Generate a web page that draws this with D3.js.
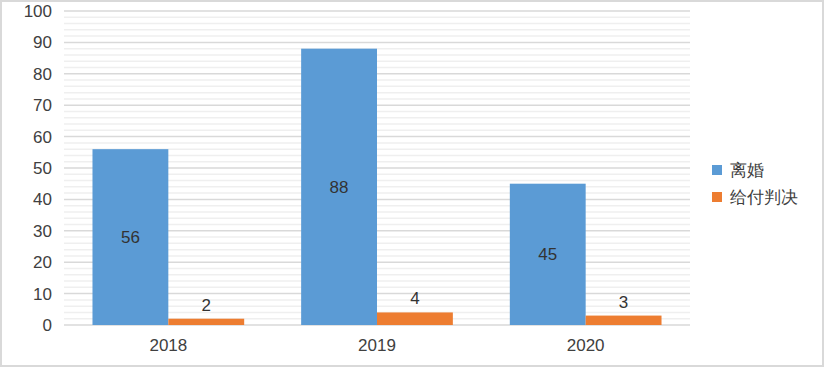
<!DOCTYPE html>
<html><head><meta charset="utf-8">
<script src="https://cdn.jsdelivr.net/npm/d3@7"></script>
<style>body{margin:0;background:#fff}svg{display:block}text{font-family:"Liberation Sans",Arial,sans-serif}</style>
</head><body>
<script>
const categories = ["2018", "2019", "2020"];
const seriesNames = ["离婚", "给付判决"];
const divorce = [56, 88, 45];
const payment = [2, 4, 3];
const yTicks = [0, 10, 20, 30, 40, 50, 60, 70, 80, 90, 100];
const colors = ["#5B9BD5", "#ED7D31"];

(function () {
const W = 824, H = 368;
const svg = d3.select("body").append("svg").attr("width", W).attr("height", H);
svg.append("rect").attr("x", 1).attr("y", 1).attr("width", W - 2).attr("height", H - 3)
  .attr("fill", "#fff").attr("stroke", "#d9d9d9").attr("stroke-width", 2);

const mLeft = 64, mRight = 690, mTop = 11, mBottom = 325;
const x = d3.scaleBand().domain(categories).range([mLeft, mRight]).paddingInner(0.273).paddingOuter(0.1365);
const y = d3.scaleLinear().domain([0, 100]).range([mBottom, mTop]);

const minor = d3.range(0, 101, 2).filter(v => v % 10 !== 0);
svg.append("g").selectAll("line").data(minor).join("line")
  .attr("x1", mLeft).attr("x2", mRight).attr("y1", d => y(d)).attr("y2", d => y(d))
  .attr("stroke", "#efefef").attr("stroke-width", 1.5);
svg.append("g").selectAll("line").data(yTicks).join("line")
  .attr("x1", mLeft).attr("x2", mRight).attr("y1", d => y(d)).attr("y2", d => y(d))
  .attr("stroke", "#d9d9d9").attr("stroke-width", 1.5);

const ya = svg.append("g").attr("transform", `translate(${mLeft - 12},0)`)
  .call(d3.axisLeft(y).tickValues(yTicks).tickSize(0).tickPadding(0));
ya.select(".domain").remove();
ya.selectAll("text").attr("font-size", 17).attr("fill", "#404040").attr("font-family", "Liberation Sans, Arial, sans-serif");

const xa = svg.append("g").attr("transform", `translate(0,${mBottom + 14})`)
  .call(d3.axisBottom(x).tickSize(0).tickPadding(0));
xa.select(".domain").remove();
xa.selectAll("text").attr("font-size", 17).attr("fill", "#404040").attr("dy", "0.71em").attr("font-family", "Liberation Sans, Arial, sans-serif");

const bw = x.bandwidth() / 2;
const g = svg.append("g");
categories.forEach((c, i) => {
  g.append("rect").attr("x", x(c)).attr("y", y(divorce[i])).attr("width", bw)
    .attr("height", y(0) - y(divorce[i])).attr("fill", colors[0]);
  g.append("rect").attr("x", x(c) + bw).attr("y", y(payment[i])).attr("width", bw)
    .attr("height", y(0) - y(payment[i])).attr("fill", colors[1]);
  g.append("text").attr("x", x(c) + bw / 2).attr("y", (y(divorce[i]) + y(0)) / 2)
    .attr("dy", "0.35em").attr("text-anchor", "middle").attr("font-size", 17).attr("fill", "#333")
    .text(divorce[i]);
  g.append("text").attr("x", x(c) + bw * 1.5).attr("y", y(payment[i]) - 8)
    .attr("text-anchor", "middle").attr("font-size", 17).attr("fill", "#333")
    .text(payment[i]);
});

const lg = svg.append("g");
seriesNames.forEach((n, i) => {
  const yy = 170 + i * 27;
  lg.append("rect").attr("x", 712).attr("y", yy - 5).attr("width", 10).attr("height", 10).attr("fill", colors[i]);
  lg.append("text").attr("x", 730).attr("y", yy).attr("dy", "0.35em").attr("font-size", 17)
    .attr("fill", "#404040").attr("font-family", "Noto Sans CJK SC, sans-serif").text(n);
});
})();
</script>
</body></html>
